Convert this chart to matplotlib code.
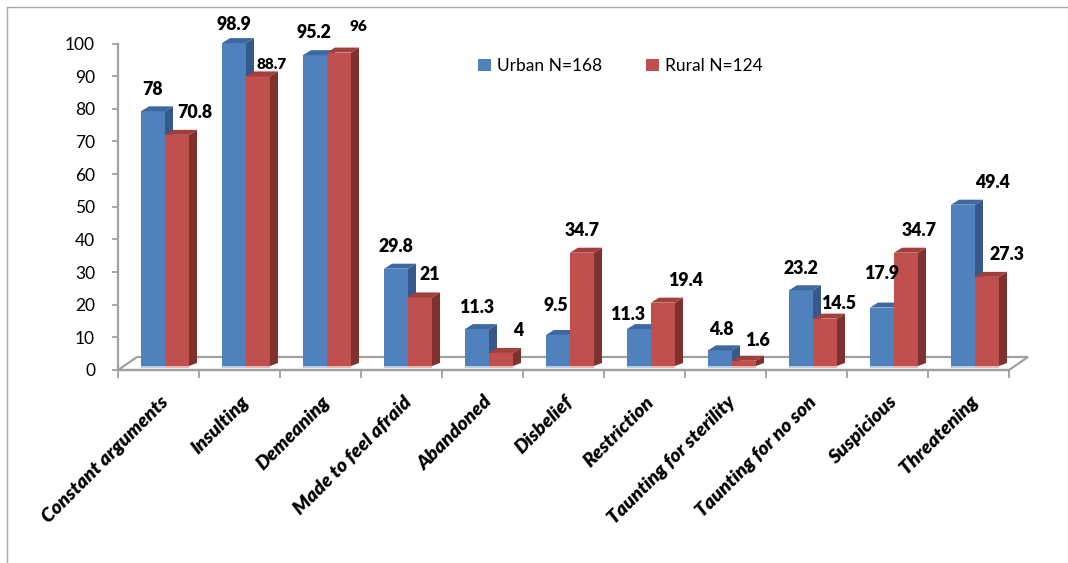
import matplotlib
matplotlib.use("Agg")
import matplotlib.pyplot as plt
from matplotlib.patches import Polygon, Patch
from matplotlib.lines import Line2D

plt.rcParams['font.family'] = ['Lato', 'DejaVu Sans']

# data
categories = ["Constant arguments", "Insulting", "Demeaning", "Made to feel afraid",
              "Abandoned", "Disbelief", "Restriction", "Taunting for sterility",
              "Taunting for no son", "Suspicious", "Threatening"]
urban = [78, 98.9, 95.2, 29.8, 11.3, 9.5, 11.3, 4.8, 23.2, 17.9, 49.4]
rural = [70.8, 88.7, 96, 21, 4, 34.7, 19.4, 1.6, 14.5, 34.7, 27.3]
series_names = ["Urban N=168", "Rural N=124"]
yticks = list(range(0, 101, 10))

# label nudges (pixels) to follow the original placement
urban_lbl_dx = [0, 0, -1, 0, 0, -2, -11, 1, 0, 0, 30]
urban_lbl_dy = [22, 19, 23, 22, 22, 29, 15, 21, 22, 34, 22]
rural_lbl_dx = [18, 14, 19, 10, 17, 0, 23, 13, 14, 13, 20]
rural_lbl_dy = [22, 12, 26, 23, 22, 22, 22, 20, 15, 22, 22]
small_labels = {(1, 1), (2, 1)}

BLUE = ('#4F81BD', '#36598A', '#3D69A0', '#B9CDE5')
RED = ('#C0504D', '#7F3130', '#A23E3B', '#E6B9B8')
GRID = '#A0A0A0'

W, H = 1068, 563
fig = plt.figure(figsize=(W / 100, H / 100), dpi=100)
ax_l, ax_r, ax_b, ax_t = 118, 1009, 370, 43.5
ax = fig.add_axes([ax_l / W, (H - ax_b) / H, (ax_r - ax_l) / W, (ax_b - ax_t) / H])
n = len(categories)
ax.set_xlim(0, n)
ax.set_ylim(0, 100)

# pixel -> data helpers
px_x = n / (ax_r - ax_l)
px_y = 100 / (ax_b - ax_t)
bw = 24 * px_x
start = 23 * px_x
dxd = 8 * px_x
dyd = 5 * px_y
base = 4 * px_y

# floor
fdx, fdy = 19 * px_x, 13 * px_y
floor = Polygon([(0, 0), (fdx, fdy), (n + fdx, fdy), (n, 0)], closed=True,
                facecolor='white', edgecolor=GRID, lw=1.6, zorder=1, clip_on=False)
ax.add_patch(floor)

for j, (vals, cols) in enumerate([(urban, BLUE), (rural, RED)]):
    xs = [i + start + j * bw for i in range(n)]
    ax.bar(xs, vals, width=bw, bottom=base, align='edge', color=cols[0],
           lw=0, zorder=3 + j * 0.5, clip_on=False)
    ax.bar(xs, [2 * px_y] * n, width=bw, bottom=base - 2 * px_y, align='edge',
           color=cols[3], lw=0, zorder=2.9, clip_on=False)
    for i, v in enumerate(vals):
        x0 = xs[i]
        top = base + v
        side = Polygon([(x0 + bw, base), (x0 + bw + dxd, base + dyd * 0.6),
                        (x0 + bw + dxd, top + dyd), (x0 + bw, top)],
                       closed=True, facecolor=cols[1], lw=0, zorder=3 + j * 0.5, clip_on=False)
        topf = Polygon([(x0, top), (x0 + dxd, top + dyd), (x0 + bw + dxd, top + dyd),
                        (x0 + bw, top)], closed=True, facecolor=cols[2], lw=0,
                       zorder=3 + j * 0.5, clip_on=False)
        ax.add_patch(side)
        ax.add_patch(topf)
        if j == 0:
            off = (urban_lbl_dx[i], urban_lbl_dy[i])
        else:
            off = (rural_lbl_dx[i], rural_lbl_dy[i])
        fs = 11.0 if (i, j) in small_labels else 12.8
        ax.annotate(f"{v:g}", xy=(x0 + bw / 2, top), xytext=off,
                    textcoords='offset pixels', ha='center', va='center',
                    fontsize=fs, fontweight='heavy', color='black', zorder=6)

# axes styling
for s in ['top', 'right']:
    ax.spines[s].set_visible(False)
ax.spines['left'].set_color(GRID)
ax.spines['left'].set_linewidth(1.6)
ax.spines['bottom'].set_color(GRID)
ax.spines['bottom'].set_linewidth(1.6)
ax.spines['bottom'].set_zorder(2)
ax.set_yticks(yticks)
ax.set_yticklabels([str(t) for t in yticks], fontsize=12.5)
ax.tick_params(axis='y', length=4.5, width=1.3, color=GRID, pad=12)
ax.set_xticks(range(n + 1))
ax.set_xticklabels([])
ax.tick_params(axis='x', length=5.5, width=1.3, color=GRID)
for i, c in enumerate(categories):
    ax.annotate(c, xy=(i + 0.5, 0), xytext=(7, -29), textcoords='offset pixels',
                rotation=45, rotation_mode='anchor', ha='right', va='center',
                fontsize=14, fontweight='heavy', fontstyle='italic', annotation_clip=False)

handles = [Patch(facecolor=BLUE[0]), Patch(facecolor=RED[0])]
fig.legend(handles, series_names, loc='upper left', bbox_to_anchor=(478 / W, 1 - 58 / H),
           ncol=2, frameon=False, fontsize=12.5, handlelength=0.75, handleheight=0.75,
           handletextpad=0.35, columnspacing=2.5, borderaxespad=0, borderpad=0)

# outer chart frame (partly cut off in the original)
fig.add_artist(Line2D([7 / W, 7 / W], [0, 1 - 7 / H], color='#A8A8A8', lw=1))
fig.add_artist(Line2D([7 / W, 1], [1 - 7 / H, 1 - 7 / H], color='#A8A8A8', lw=1))

fig.savefig("out.png", dpi=100)
